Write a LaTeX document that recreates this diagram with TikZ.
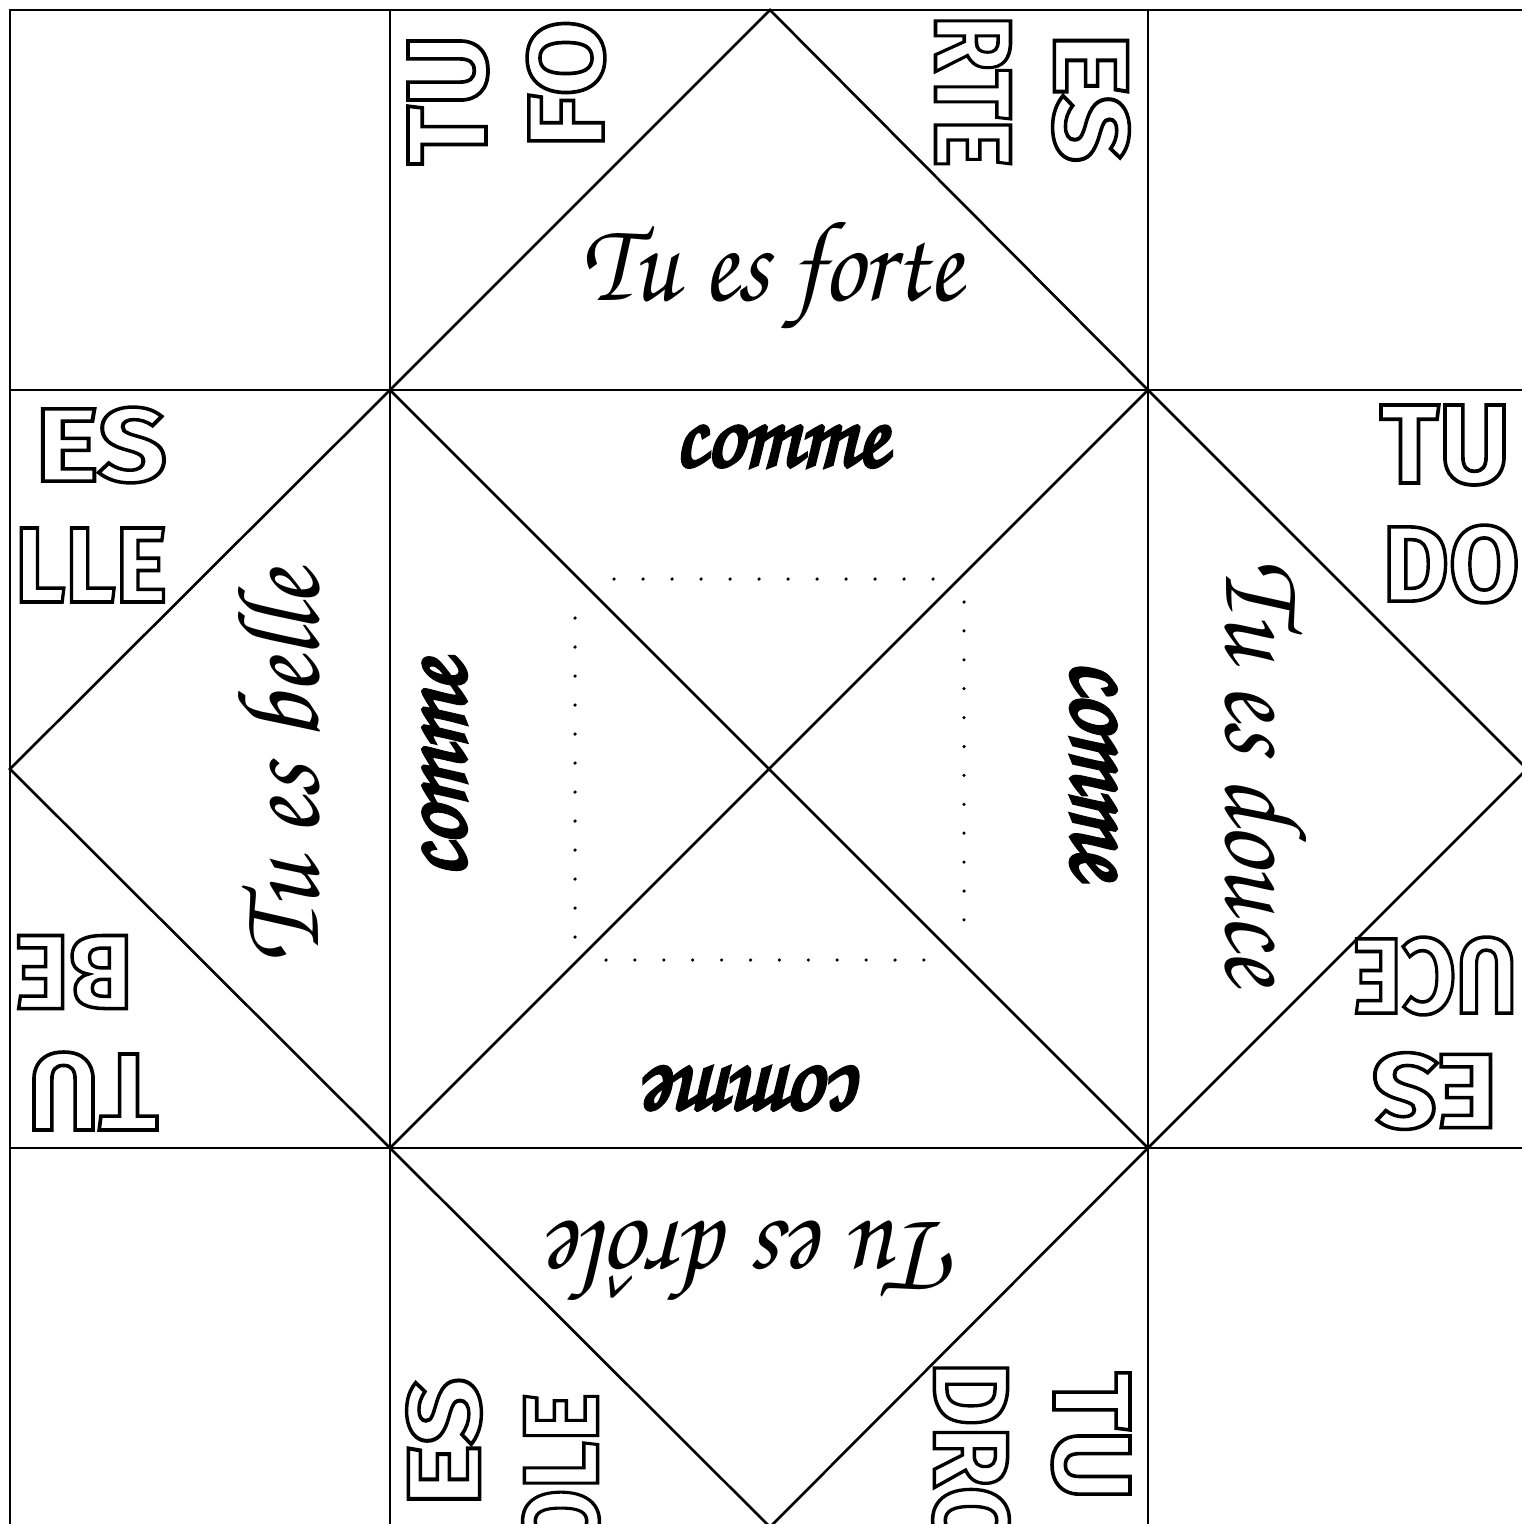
\documentclass[tikz,border=0pt]{standalone}
\usepackage{fontspec}
\usepackage{graphicx}
\newfontfamily\cursivefont{texgyrechorus-mediumitalic.otf}
\newfontfamily\blockfont{Fira Sans}
\newcommand\outlinetext[1]{\special{pdf:literal direct 1 Tr 1.0 w}#1\special{pdf:literal direct 0 Tr}}
\newcommand\heavytext[1]{\special{pdf:literal direct 2 Tr 1.1 w}#1\special{pdf:literal direct 0 Tr}}
\newcommand\blk[3]{\resizebox{#1cm}{#2cm}{\outlinetext{#3}}}
\newcommand\cur[3]{\resizebox{#1cm}{#2cm}{#3}}
\newcommand\curb[3]{\resizebox{#1cm}{#2cm}{\heavytext{#3}}}
\tikzset{
  lin/.style={line width=0.75pt, line join=miter},
  curtext/.style={inner sep=0pt, anchor=base, font=\cursivefont\fontsize{30}{30}\selectfont},
  blocktext/.style={inner sep=0pt, font=\blockfont\bfseries\fontsize{30}{30}\selectfont},
  dotmark/.style={fill=black}
}
\begin{document}
\begin{tikzpicture}[x={(0.01cm,0)}, y={(0,-0.01cm)}]
\useasboundingbox (0,0) rectangle (1522,1524);
\fill[white] (0,0) rectangle (1522,1524);
% grid
\draw[lin] (10,1530) -- (10,10) -- (1530,10);
\draw[lin] (10,390) -- (1530,390);
\draw[lin] (10,1148) -- (1530,1148);
\draw[lin] (390,10) -- (390,1530);
\draw[lin] (1148,10) -- (1148,1530);
% big diamond
\draw[lin] (770,10) -- (1148,390) -- (1527,769) -- (1148,1148) -- (770,1527) -- (390,1148) -- (10,769) -- (390,390) -- cycle;
% X
\draw[lin] (390,390) -- (1148,1148);
\draw[lin] (1148,390) -- (390,1148);
% dotted square
\foreach \i in {0,...,11} {
  \fill[dotmark] (614+29*\i,579) circle (0.5pt);
  \fill[dotmark] (606+28.9*\i,960) circle (0.5pt);
  \fill[dotmark] (575,618+29*\i) circle (0.5pt);
  \fill[dotmark] (964,602+28.9*\i) circle (0.5pt);
}
% cursive texts
\node[curtext] (forte) at (772,300) {\cur{3.8}{0.78}{Tu es forte}};
\node[curtext, rotate=90] (belle) at (318,767) {\cur{3.93}{0.8}{Tu es belle}};
\node[curtext, rotate=-90] (douce) at (1226,772) {\cur{4.25}{0.8}{Tu es douce}};
\node[curtext, rotate=180] (drole) at (755,1222) {\cur{4.06}{0.78}{Tu es drôle}};
\node[curtext] (c1) at (781,466) {\curb{2.13}{0.40}{comme}};
\node[curtext, rotate=90] (c2) at (465,769) {\curb{2.17}{0.42}{comme}};
\node[curtext, rotate=-90] (c3) at (1072,769) {\curb{2.18}{0.44}{comme}};
\node[curtext, rotate=180] (c4) at (757,1068) {\curb{2.18}{0.42}{comme}};
% block letters
\node[blocktext, rotate=90] (b1) at (448,100) {\blk{1.30}{0.78}{TU}};
\node[blocktext, rotate=90] (b2) at (566,84) {\blk{1.28}{0.76}{FO}};
\node[blocktext, rotate=-90] (b3) at (973,91) {\blk{1.52}{0.75}{RTE}};
\node[blocktext, rotate=-90] (b4) at (1091,98) {\blk{1.30}{0.75}{ES}};
\node[blocktext] (b5) at (101,445) {\blk{1.32}{0.74}{ES}};
\node[blocktext] (b6) at (91,565) {\blk{1.52}{0.74}{LLE}};
\node[blocktext] (b7) at (1445,445) {\blk{1.30}{0.78}{TU}};
\node[blocktext] (b8) at (1451,564) {\blk{1.37}{0.76}{DO}};
\node[blocktext, rotate=180] (b9) at (74,972) {\blk{1.18}{0.73}{BE}};
\node[blocktext, rotate=180] (b10) at (93,1091) {\blk{1.30}{0.76}{TU}};
\node[blocktext, rotate=180] (b11) at (1435,976) {\blk{1.64}{0.76}{UCE}};
\node[blocktext, rotate=180] (b12) at (1435,1091) {\blk{1.26}{0.75}{ES}};
\node[blocktext, rotate=90] (b13) at (444,1442) {\blk{1.29}{0.73}{ES}};
\node[blocktext, rotate=90] (b14) at (561,1473) {\blk{1.60}{0.75}{OLE}};
\node[blocktext, rotate=-90] (b15) at (971,1458) {\blk{1.93}{0.75}{DRO}};
\node[blocktext, rotate=-90] (b16) at (1091,1436) {\blk{1.28}{0.76}{TU}};
\end{tikzpicture}
\end{document}
